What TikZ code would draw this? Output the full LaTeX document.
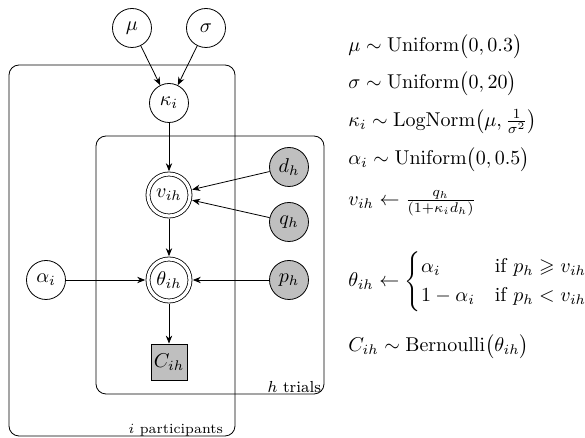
\documentclass[tikz,border=0pt]{standalone}
\usepackage{amsmath,amssymb}
\usepackage{tikz}
\usetikzlibrary{arrows.meta,positioning,fit,calc}

\begin{document}
\begin{tikzpicture}[
  var/.style={circle,draw,minimum size=19.5pt,inner sep=0pt},
  obsvar/.style={var,fill=gray!50},
  detvar/.style={var,double,double distance=1.6pt,minimum size=21pt,outer sep=1.4pt},
  datbox/.style={rectangle,draw,fill=gray!50,minimum size=18pt,inner sep=0pt},
  link/.style={-{Stealth[length=4pt,width=3.2pt]}},
  plate/.style={draw,rounded corners=5pt,inner sep=0pt},
  platelabel/.style={font=\footnotesize,anchor=base east,inner sep=0pt},
  eqn/.style={anchor=base west,inner sep=0pt},
  on grid
]
  \useasboundingbox (-84.5pt,-167.5pt) rectangle (208pt,51.5pt);

  % nodes
  \node[var] (kappa) {$\kappa_i$};
  \node[var,above left=37.5pt and 18.5pt of kappa] (mu) {$\mu$};
  \node[var,above right=37.5pt and 18.5pt of kappa] (sigma) {$\sigma$};
  \node[detvar,below=46pt of kappa] (v) {$v_{ih}$};
  \node[detvar,below=42.5pt of v] (theta) {$\theta_{ih}$};
  \node[datbox,below=41pt of theta] (C) {$C_{ih}$};
  \node[var,left=61.5pt of theta] (alpha) {$\alpha_i$};
  \node[obsvar,right=60pt of theta] (p) {$p_h$};
  \node[obsvar,above=29pt of p] (q) {$q_h$};
  \node[obsvar,above=27.5pt of q] (d) {$d_h$};

  % edges
  \draw[link] (mu) -- (kappa);
  \draw[link] (sigma) -- (kappa);
  \draw[link] (kappa) -- (v);
  \draw[link] (d) -- (v);
  \draw[link] (q) -- (v);
  \draw[link] (v) -- (theta);
  \draw[link] (alpha) -- (theta);
  \draw[link] (p) -- (theta);
  \draw[link] (theta) -- (C);

  % plates
  \node[plate,fit={($(kappa)+(-36.5pt,-16.5pt)$) ($(kappa)+(77.5pt,-145.5pt)$)}] (trials) {};
  \node[plate,fit={($(kappa)+(-80pt,19pt)$) ($(kappa)+(33pt,-166.5pt)$)}] (parts) {};
  \node[platelabel] (trialslab) at ($(trials.south east)+(-1.5pt,1pt)$) {$h$ trials};
  \node[platelabel,font=\scriptsize] (partslab) at ($(parts.south east)+(-6pt,1.6pt)$) {$i$ participants};

  % model
  \node[eqn] (eqmu) at (89.5pt,25.7pt) {$\mu \sim \mathrm{Uniform}\bigl(0,0.3\bigr)$};
  \node[eqn] (eqsigma) at (89.5pt,7pt) {$\sigma \sim \mathrm{Uniform}\bigl(0,20\bigr)$};
  \node[eqn] (eqkappa) at (89.5pt,-11.8pt) {$\kappa_i \sim \mathrm{LogNorm}\bigl(\mu,\frac{1}{\sigma^2}\bigr)$};
  \node[eqn] (eqalpha) at (89.5pt,-31pt) {$\alpha_i \sim \mathrm{Uniform}\bigl(0,0.5\bigr)$};
  \node[eqn] (eqv) at (89.5pt,-51.3pt) {$v_{ih} \leftarrow \frac{q_h}{(1+\kappa_i d_h)}$};
  \node[eqn] (eqtheta) at (89.5pt,-91.8pt) {$\theta_{ih} \leftarrow
    \begin{cases}\alpha_i & \text{if } p_h \geqslant v_{ih}\\
    1-\alpha_i & \text{if } p_h < v_{ih}\end{cases}$};
  \node[eqn] (eqC) at (89.5pt,-124.3pt) {$C_{ih} \sim \mathrm{Bernoulli}\bigl(\theta_{ih}\bigr)$};
\end{tikzpicture}
\end{document}
